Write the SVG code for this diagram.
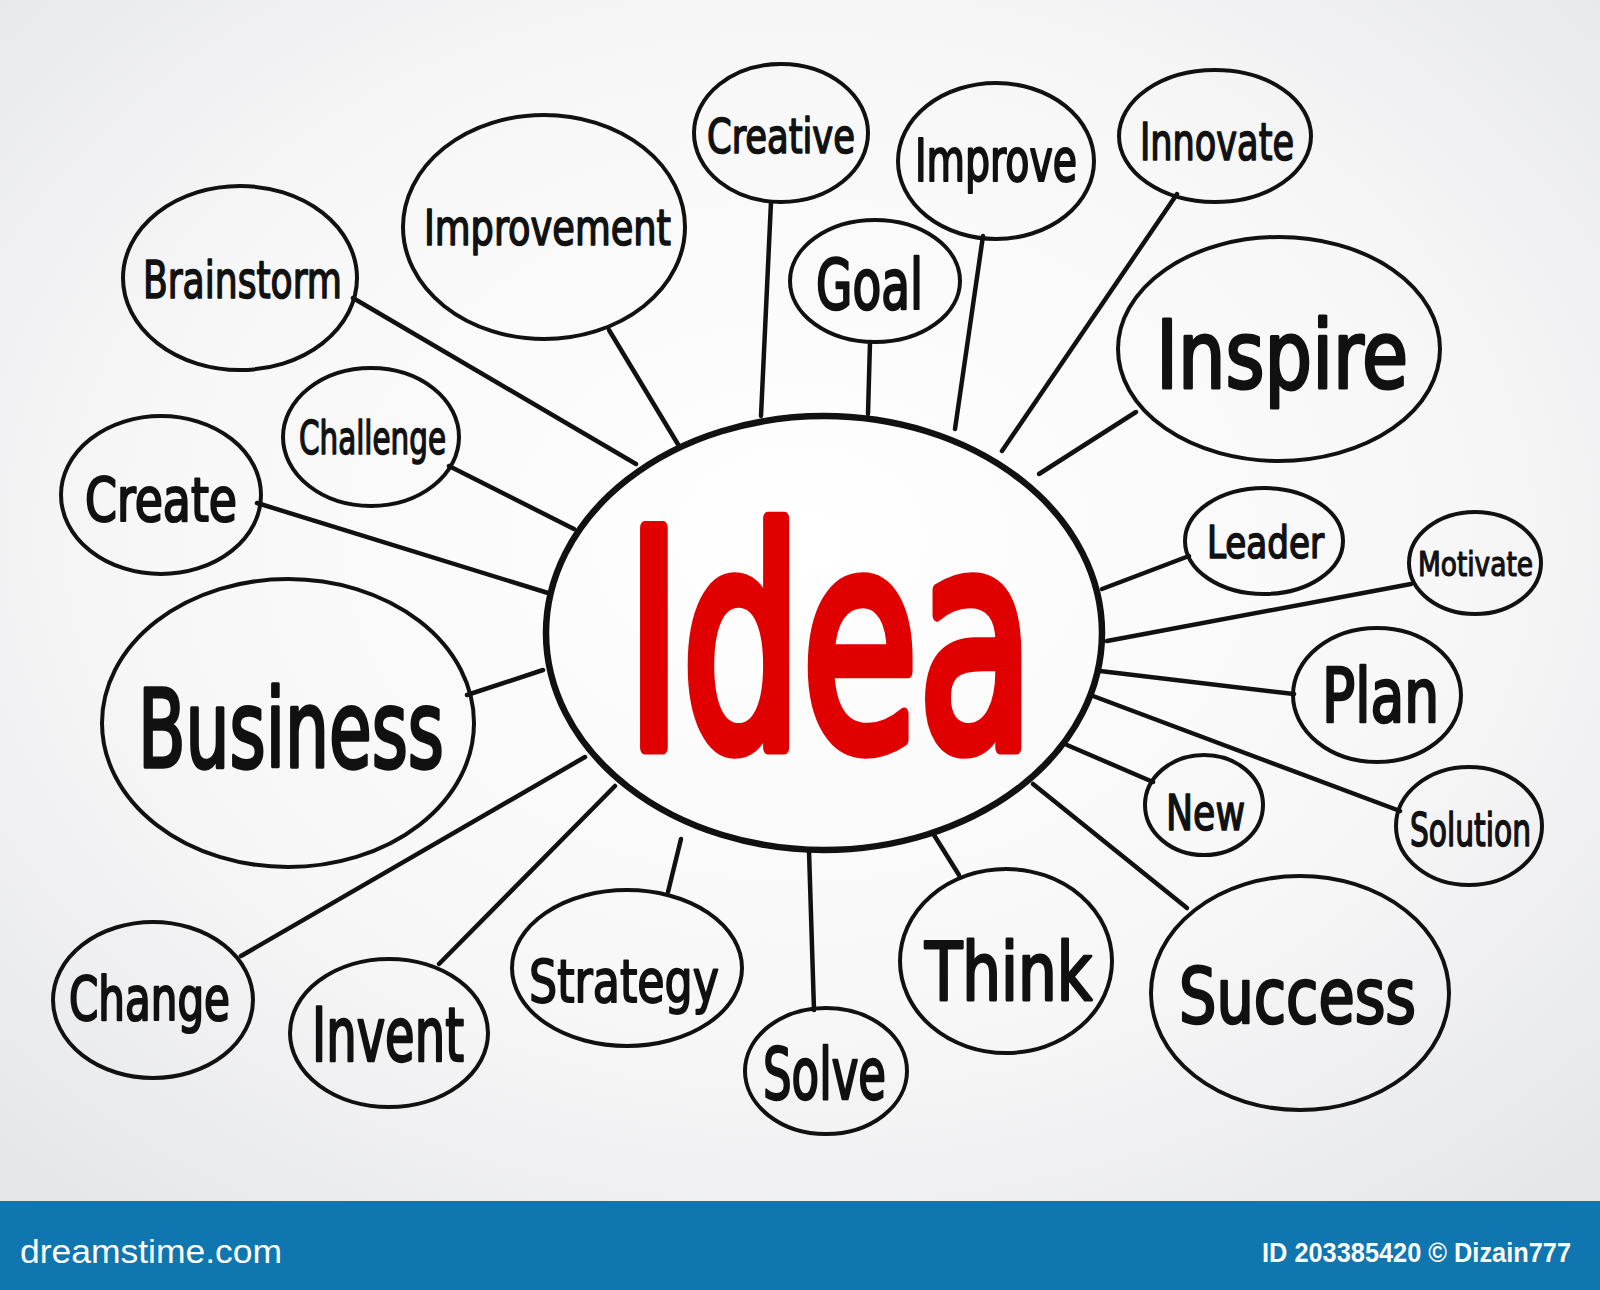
<svg xmlns="http://www.w3.org/2000/svg" width="1600" height="1290" viewBox="0 0 1600 1290">
<defs>
<radialGradient id="bg" cx="0.5" cy="0.45" r="0.75">
<stop offset="0" stop-color="#ffffff"/>
<stop offset="0.55" stop-color="#f7f7f8"/>
<stop offset="1" stop-color="#e4e5e7"/>
</radialGradient>
<style>
.n{fill:none;stroke:#111;stroke-width:4}
.c{stroke:#111;stroke-width:4.5;stroke-linecap:round;fill:none}
.t{font-family:"DejaVu Sans Condensed","DejaVu Sans",sans-serif;font-weight:normal;fill:#111;stroke:#111;stroke-width:1.6;stroke-linejoin:round;text-anchor:start}
.f{font-family:"Liberation Sans","DejaVu Sans",sans-serif;fill:#fff}
</style>
</defs>
<rect x="0" y="0" width="1600" height="1201" fill="url(#bg)"/>
<g id="connectors">
<line class="c" x1="353" y1="298" x2="636" y2="464"/>
<line class="c" x1="609" y1="330" x2="679" y2="446"/>
<line class="c" x1="771" y1="202" x2="761" y2="416"/>
<line class="c" x1="870" y1="342" x2="868" y2="414"/>
<line class="c" x1="983" y1="236" x2="955" y2="429"/>
<line class="c" x1="1177" y1="194" x2="1002" y2="451"/>
<line class="c" x1="1136" y1="412" x2="1039" y2="474"/>
<line class="c" x1="1189" y1="556" x2="1102" y2="589"/>
<line class="c" x1="1411" y1="584" x2="1107" y2="641"/>
<line class="c" x1="1294" y1="694" x2="1100" y2="671"/>
<line class="c" x1="1400" y1="811" x2="1093" y2="696"/>
<line class="c" x1="1153" y1="782" x2="1067" y2="745"/>
<line class="c" x1="1187" y1="908" x2="1033" y2="784"/>
<line class="c" x1="959" y1="875" x2="934" y2="835"/>
<line class="c" x1="814" y1="1010" x2="809" y2="851"/>
<line class="c" x1="668" y1="892" x2="681" y2="839"/>
<line class="c" x1="439" y1="964" x2="615" y2="786"/>
<line class="c" x1="241" y1="956" x2="585" y2="757"/>
<line class="c" x1="467" y1="695" x2="543" y2="670"/>
<line class="c" x1="257" y1="503" x2="548" y2="593"/>
<line class="c" x1="449" y1="466" x2="574" y2="529"/>
</g>
<g id="idea">
<ellipse cx="824" cy="633" rx="278" ry="217" fill="none" stroke="#111" stroke-width="6.5"/>
<text transform="translate(626,748) scale(1,1.44)" x="0" y="0" font-size="210" textLength="408" lengthAdjust="spacingAndGlyphs" style="font-family:'DejaVu Sans Condensed','DejaVu Sans',sans-serif;font-weight:normal;fill:#e00000;stroke:#e00000;stroke-width:9;stroke-linejoin:round">Idea</text>
</g>
<g id="brainstorm"><ellipse class="n" cx="240" cy="278" rx="117" ry="92"/><text class="t" x="143" y="298" font-size="52" textLength="199" lengthAdjust="spacingAndGlyphs">Brainstorm</text></g>
<g id="improvement"><ellipse class="n" cx="544" cy="227" rx="141" ry="112"/><text class="t" x="424" y="245" font-size="50" textLength="247" lengthAdjust="spacingAndGlyphs">Improvement</text></g>
<g id="creative"><ellipse class="n" cx="781" cy="133" rx="87" ry="69"/><text class="t" x="707" y="153" font-size="48" textLength="148" lengthAdjust="spacingAndGlyphs">Creative</text></g>
<g id="goal"><ellipse class="n" cx="875" cy="281" rx="85" ry="61"/><text class="t" x="816" y="309" font-size="70" textLength="107" lengthAdjust="spacingAndGlyphs" style="stroke-width:2.4">Goal</text></g>
<g id="improve"><ellipse class="n" cx="996" cy="161" rx="98" ry="78"/><text class="t" x="915" y="181" font-size="58" textLength="162" lengthAdjust="spacingAndGlyphs" style="stroke-width:2">Improve</text></g>
<g id="innovate"><ellipse class="n" cx="1215" cy="136" rx="96" ry="66"/><text class="t" x="1140" y="160" font-size="52" textLength="154" lengthAdjust="spacingAndGlyphs">Innovate</text></g>
<g id="inspire"><ellipse class="n" cx="1279" cy="349" rx="161" ry="112"/><text class="t" x="1156" y="388" font-size="94" textLength="252" lengthAdjust="spacingAndGlyphs" style="stroke-width:3">Inspire</text></g>
<g id="leader"><ellipse class="n" cx="1264" cy="541" rx="79" ry="53"/><text class="t" x="1207" y="558" font-size="45" textLength="117" lengthAdjust="spacingAndGlyphs">Leader</text></g>
<g id="motivate"><ellipse class="n" cx="1475" cy="563" rx="66" ry="51"/><text class="t" x="1418" y="576" font-size="34" textLength="115" lengthAdjust="spacingAndGlyphs" style="stroke-width:1.2">Motivate</text></g>
<g id="plan"><ellipse class="n" cx="1377" cy="695" rx="84" ry="67"/><text class="t" x="1322" y="722" font-size="74" textLength="117" lengthAdjust="spacingAndGlyphs" style="stroke-width:2.6">Plan</text></g>
<g id="new"><ellipse class="n" cx="1204" cy="805" rx="59" ry="50"/><text class="t" x="1166" y="830" font-size="50" textLength="79" lengthAdjust="spacingAndGlyphs">New</text></g>
<g id="solution"><ellipse class="n" cx="1469" cy="826" rx="73" ry="59"/><text class="t" x="1410" y="846" font-size="47" textLength="121" lengthAdjust="spacingAndGlyphs">Solution</text></g>
<g id="success"><ellipse class="n" cx="1300" cy="993" rx="149" ry="117"/><text class="t" x="1179" y="1023" font-size="76" textLength="237" lengthAdjust="spacingAndGlyphs" style="stroke-width:2.6">Success</text></g>
<g id="think"><ellipse class="n" cx="1006" cy="961" rx="106" ry="92"/><text class="t" x="925" y="1000" font-size="80" textLength="167" lengthAdjust="spacingAndGlyphs" style="stroke-width:2.8">Think</text></g>
<g id="solve"><ellipse class="n" cx="826" cy="1071" rx="81" ry="63"/><text class="t" x="763" y="1099" font-size="72" textLength="123" lengthAdjust="spacingAndGlyphs" style="stroke-width:2.4">Solve</text></g>
<g id="strategy"><ellipse class="n" cx="627" cy="968" rx="115" ry="78"/><text class="t" x="529" y="1002" font-size="58" textLength="190" lengthAdjust="spacingAndGlyphs" style="stroke-width:1.8">Strategy</text></g>
<g id="invent"><ellipse class="n" cx="389" cy="1033" rx="99" ry="74"/><text class="t" x="312" y="1061" font-size="74" textLength="152" lengthAdjust="spacingAndGlyphs" style="stroke-width:2.4">Invent</text></g>
<g id="change"><ellipse class="n" cx="153" cy="1000" rx="100" ry="78"/><text class="t" x="69" y="1020" font-size="61" textLength="161" lengthAdjust="spacingAndGlyphs" style="stroke-width:2.2">Change</text></g>
<g id="business"><ellipse class="n" cx="288" cy="723" rx="186" ry="144"/><text class="t" x="138" y="767" font-size="108" textLength="306" lengthAdjust="spacingAndGlyphs" style="stroke-width:3.4">Business</text></g>
<g id="create"><ellipse class="n" cx="161" cy="495" rx="100" ry="79"/><text class="t" x="85" y="521" font-size="61" textLength="152" lengthAdjust="spacingAndGlyphs" style="stroke-width:2.2">Create</text></g>
<g id="challenge"><ellipse class="n" cx="371" cy="437" rx="88" ry="69"/><text class="t" x="299" y="454" font-size="47" textLength="147" lengthAdjust="spacingAndGlyphs">Challenge</text></g>
<g id="footer">
<rect x="0" y="1201" width="1600" height="89" fill="#0f76b0"/>
<text class="f" x="20" y="1263" font-size="34" textLength="262" lengthAdjust="spacingAndGlyphs">dreamstime.com</text>
<text class="f" x="1262" y="1262" font-size="27" font-weight="bold" textLength="309" lengthAdjust="spacingAndGlyphs">ID 203385420 © Dizain777</text>
</g>
</svg>
